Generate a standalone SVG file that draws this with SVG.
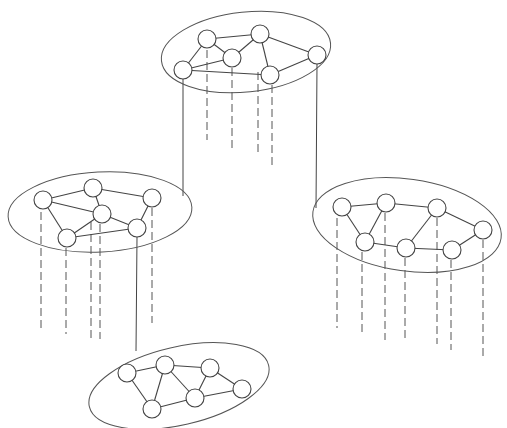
<svg xmlns="http://www.w3.org/2000/svg" width="507" height="428" viewBox="0 0 507 428">
<style>
.bg{fill:#fff}
.hull{fill:none;stroke:#555;stroke-width:1}
.edge{stroke:#444;stroke-width:1.1;fill:none}
.nd{fill:#fff;stroke:#444;stroke-width:1.1}
.solid{stroke:#444;stroke-width:1;fill:none}
.dash{stroke:#555;stroke-width:1;stroke-dasharray:8,4;fill:none}
</style>
<rect class="bg" x="0" y="0" width="507" height="428"/>
<g id="connectors">
<line class="solid" x1="183" y1="79" x2="183" y2="196"/>
<line class="solid" x1="317" y1="64" x2="316" y2="208"/>
<line class="solid" x1="137" y1="237" x2="136" y2="351"/>
<line class="dash" x1="207" y1="50" x2="207" y2="140"/>
<line class="dash" x1="232" y1="68" x2="232" y2="150"/>
<line class="dash" x1="258" y1="72" x2="258" y2="152"/>
<line class="dash" x1="272" y1="85" x2="272" y2="166"/>
<line class="dash" x1="41" y1="212" x2="41" y2="328"/>
<line class="dash" x1="66" y1="248" x2="66" y2="334"/>
<line class="dash" x1="91" y1="222" x2="91" y2="339"/>
<line class="dash" x1="100" y1="224" x2="100" y2="339"/>
<line class="dash" x1="152" y1="208" x2="152" y2="323"/>
<line class="dash" x1="337" y1="218" x2="337" y2="328"/>
<line class="dash" x1="362" y1="252" x2="362" y2="334"/>
<line class="dash" x1="385" y1="213" x2="385" y2="340"/>
<line class="dash" x1="405" y1="258" x2="405" y2="340"/>
<line class="dash" x1="437" y1="218" x2="437" y2="344"/>
<line class="dash" x1="451" y1="260" x2="451" y2="350"/>
<line class="dash" x1="483" y1="240" x2="483" y2="358"/>
</g>
<g id="cluster-top">
<ellipse class="hull" cx="246" cy="52" rx="85" ry="40" transform="rotate(-6 246 52)"/>
<g class="edge">
<line x1="207" y1="39" x2="260" y2="34"/><line x1="260" y1="34" x2="317" y2="55"/>
<line x1="207" y1="39" x2="183" y2="70"/><line x1="207" y1="39" x2="232" y2="58"/>
<line x1="232" y1="58" x2="260" y2="34"/><line x1="260" y1="34" x2="270" y2="75"/>
<line x1="183" y1="70" x2="232" y2="58"/><line x1="183" y1="70" x2="270" y2="75"/>
<line x1="270" y1="75" x2="317" y2="55"/>
</g>
<circle class="nd" cx="207" cy="39" r="9"/><circle class="nd" cx="260" cy="34" r="9"/>
<circle class="nd" cx="232" cy="58" r="9"/><circle class="nd" cx="183" cy="70" r="9"/>
<circle class="nd" cx="270" cy="75" r="9"/><circle class="nd" cx="317" cy="55" r="9"/>
</g>
<g id="cluster-left">
<ellipse class="hull" cx="100" cy="212" rx="92" ry="40" transform="rotate(-3 100 212)"/>
<g class="edge">
<line x1="43" y1="200" x2="93" y2="188"/><line x1="93" y1="188" x2="152" y2="198"/>
<line x1="43" y1="200" x2="102" y2="214"/><line x1="43" y1="200" x2="67" y2="238"/>
<line x1="93" y1="188" x2="102" y2="214"/><line x1="102" y1="214" x2="67" y2="238"/>
<line x1="102" y1="214" x2="137" y2="228"/><line x1="152" y1="198" x2="137" y2="228"/>
<line x1="67" y1="238" x2="137" y2="228"/>
</g>
<circle class="nd" cx="43" cy="200" r="9"/><circle class="nd" cx="93" cy="188" r="9"/>
<circle class="nd" cx="152" cy="198" r="9"/><circle class="nd" cx="102" cy="214" r="9"/>
<circle class="nd" cx="137" cy="228" r="9"/><circle class="nd" cx="67" cy="238" r="9"/>
</g>
<g id="cluster-right">
<ellipse class="hull" cx="407" cy="225" rx="95" ry="46" transform="rotate(8 407 225)"/>
<g class="edge">
<line x1="342" y1="207" x2="386" y2="203"/><line x1="386" y1="203" x2="437" y2="208"/>
<line x1="342" y1="207" x2="365" y2="242"/><line x1="386" y1="203" x2="365" y2="242"/>
<line x1="365" y1="242" x2="406" y2="248"/><line x1="437" y1="208" x2="406" y2="248"/>
<line x1="406" y1="248" x2="452" y2="250"/><line x1="437" y1="208" x2="483" y2="230"/>
<line x1="452" y1="250" x2="483" y2="230"/>
</g>
<circle class="nd" cx="342" cy="207" r="9"/><circle class="nd" cx="386" cy="203" r="9"/>
<circle class="nd" cx="437" cy="208" r="9"/><circle class="nd" cx="483" cy="230" r="9"/>
<circle class="nd" cx="365" cy="242" r="9"/><circle class="nd" cx="406" cy="248" r="9"/>
<circle class="nd" cx="452" cy="250" r="9"/>
</g>
<g id="cluster-bottom">
<ellipse class="hull" cx="179" cy="386" rx="92" ry="39" transform="rotate(-13 179 386)"/>
<g class="edge">
<line x1="127" y1="373" x2="165" y2="365"/><line x1="165" y1="365" x2="210" y2="368"/>
<line x1="127" y1="373" x2="152" y2="409"/><line x1="165" y1="365" x2="152" y2="409"/>
<line x1="165" y1="365" x2="195" y2="398"/><line x1="210" y1="368" x2="195" y2="398"/>
<line x1="210" y1="368" x2="242" y2="389"/><line x1="152" y1="409" x2="195" y2="398"/>
<line x1="195" y1="398" x2="242" y2="389"/>
</g>
<circle class="nd" cx="127" cy="373" r="9"/><circle class="nd" cx="165" cy="365" r="9"/>
<circle class="nd" cx="210" cy="368" r="9"/><circle class="nd" cx="242" cy="389" r="9"/>
<circle class="nd" cx="195" cy="398" r="9"/><circle class="nd" cx="152" cy="409" r="9"/>
</g>
</svg>
